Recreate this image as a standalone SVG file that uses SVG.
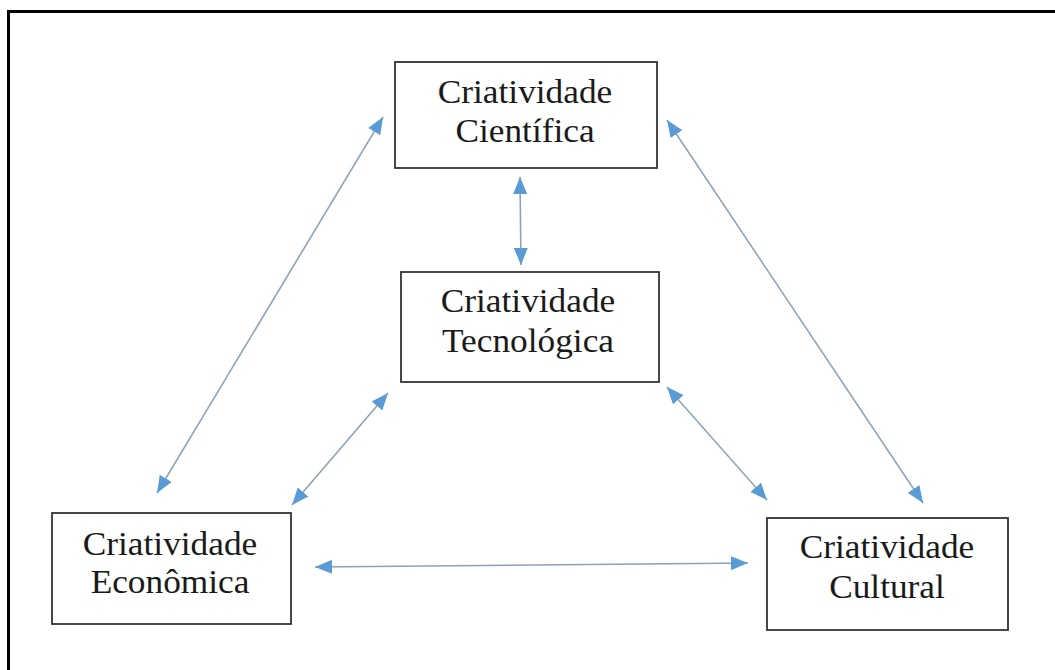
<svg xmlns="http://www.w3.org/2000/svg" width="1055" height="670" viewBox="0 0 1055 670">
<style>
.box{fill:#fff;stroke:#333;stroke-width:1.8}
.lbl{font-family:"Liberation Serif","Times New Roman",serif;font-size:33px;fill:#1a1a1a;text-anchor:middle}
.con{stroke:#8fa3b8;stroke-width:1.6;fill:none;marker-start:url(#ah);marker-end:url(#ah)}
</style>
<defs>
<marker id="ah" viewBox="0 0 17 14" refX="17" refY="7" markerWidth="17" markerHeight="14" markerUnits="userSpaceOnUse" orient="auto-start-reverse">
<path d="M0,0 L17,7 L0,14 Z" fill="#5b9bd5"/>
</marker>
</defs>
<rect width="1055" height="670" fill="#fff"/>
<path d="M8.5,680 V11.5 H1065" fill="none" stroke="#000" stroke-width="3"/>
<g id="connectors">
<line class="con" x1="157" y1="493" x2="383" y2="117"/>
<line class="con" x1="292" y1="505" x2="388" y2="393"/>
<line class="con" x1="667" y1="120" x2="923" y2="503"/>
<line class="con" x1="667" y1="387" x2="767" y2="500"/>
<line class="con" x1="520" y1="177" x2="521" y2="265"/>
<line class="con" x1="315" y1="567" x2="748" y2="563"/>
</g>
<g id="cientifica">
<rect class="box" x="395" y="62" width="262" height="106"/>
<text class="lbl" transform="matrix(1.07 0 0 1 525 103)">Criatividade</text>
<text class="lbl" transform="matrix(1.07 0 0 1 525 142)">Científica</text>
</g>
<g id="tecnologica">
<rect class="box" x="401" y="272" width="258" height="110"/>
<text class="lbl" transform="matrix(1.07 0 0 1 528 312)">Criatividade</text>
<text class="lbl" transform="matrix(1.07 0 0 1 528 352)">Tecnológica</text>
</g>
<g id="economica">
<rect class="box" x="52" y="513" width="239" height="111"/>
<text class="lbl" transform="matrix(1.07 0 0 1 170 555)">Criatividade</text>
<text class="lbl" transform="matrix(1.07 0 0 1 170 593)">Econômica</text>
</g>
<g id="cultural">
<rect class="box" x="767" y="518" width="241" height="112"/>
<text class="lbl" transform="matrix(1.07 0 0 1 887 558)">Criatividade</text>
<text class="lbl" transform="matrix(1.07 0 0 1 887 598)">Cultural</text>
</g>
</svg>
